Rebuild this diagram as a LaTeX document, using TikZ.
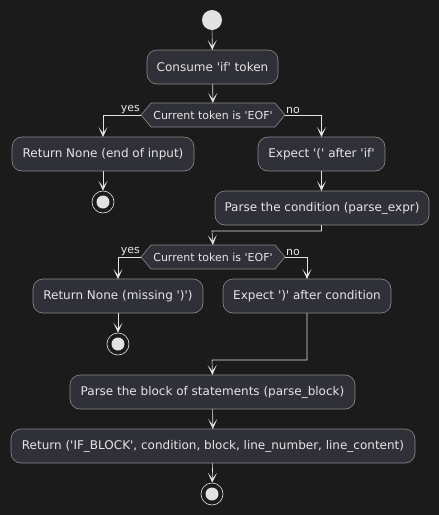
\documentclass[tikz,border=0pt]{standalone}
\usepackage{fontspec}
\newfontfamily\actfont{DejaVu Sans}
\usetikzlibrary{arrows.meta,shapes.symbols}
\definecolor{bgcolor}{HTML}{1B1B1B}
\definecolor{actcolor}{HTML}{2F3038}
\definecolor{bordercolor}{HTML}{8C8C8C}
\definecolor{linecolor}{HTML}{E2E2E2}
\definecolor{textcolor}{HTML}{E6E6E6}
\tikzset{actbase/.style={semithick, draw=bordercolor, fill=actcolor, text=textcolor, inner sep=0pt, outer sep=0pt},%
    act/.style={actbase, rounded corners=10pt, minimum height=34pt, font=\actfont\fontsize{12}{14}\selectfont},%
    choice/.style={actbase, shape=signal, signal to=east and west, signal pointer angle=100, minimum width=144pt, minimum height=24pt, font=\actfont\fontsize{11}{13}\selectfont},%
    startnode/.style={shape=circle, fill=linecolor, minimum size=20pt, inner sep=0pt},%
    stopnode/.style={shape=circle, draw=linecolor, semithick, fill=bgcolor, minimum size=22pt, inner sep=0pt, path picture={\fill[linecolor] (path picture bounding box.center) circle (6.5pt);}},%
    conn/.style={-{Stealth[length=10pt, width=9pt, inset=6pt]}, semithick, color=linecolor},%
    branch/.style={text=textcolor, inner sep=1pt, font=\actfont\fontsize{11}{13}\selectfont}%
}

\begin{document}
\begin{tikzpicture}[x=1pt, y=-1pt]
            \fill[bgcolor] (0,0) rectangle (439,515);
            \useasboundingbox (0,0) rectangle (439,515);
            \begin{scope} %draw activities
                \foreach \nodename/\nodetype/\boxwidth/\xpos/\ypos/\content in {%
                        consume/act/131/212.5/67/{Consume 'if' token},
                        eofret/act/182/103/154/{Return None (end of input)},
                        expopen/act/127/321.5/154/{Expect '(' after 'if'},
                        parsecond/act/214/322/208/{Parse the condition (parse\_expr)},
                        missret/act/170/118/296/{Return None (missing ')')},
                        expclose/act/168/307/296/{Expect ')' after condition},
                        parseblock/act/285/212.5/392/{Parse the block of statements (parse\_block)},
                        blockret/act/404/213/446/{Return ('IF\_BLOCK', condition, block, line\_number, line\_content)}
                    } \node[\nodetype, minimum width=\boxwidth pt] (\nodename) at (\xpos, \ypos) {\content};
                \foreach \nodename/\ypos in {eofcheck/115, closecheck/257}
                    \node[choice] (\nodename) at (213, \ypos) {Current token is 'EOF'};
            \end{scope}
            \begin{scope} %draw start and stops
                \node[startnode] (start) at (212, 20) {};
                \foreach \nodename/\xpos/\ypos in {stopa/103/202, stopb/118/344, stopc/212/494}
                    \node[stopnode] (\nodename) at (\xpos, \ypos) {};
                \coordinate (joina) at (212, 231);
                \coordinate (joinb) at (212, 360);
            \end{scope}
            \begin{scope} %draw connections
                \draw[conn] (start) -- (consume);
                \draw[conn] (consume) -- (eofcheck);
                \draw[conn] (eofcheck.west) -| (eofret.north);
                \draw[conn] (eofcheck.east) -| (expopen.north);
                \draw[conn] (eofret) -- (stopa);
                \draw[conn] (expopen) -- (expopen |- parsecond.north);
                \draw[conn] (parsecond.south -| expopen) |- (joina) -- (closecheck.north);
                \draw[conn] (closecheck.west) -| (missret.north);
                \draw[conn] (closecheck.east) -| (expclose.north);
                \draw[conn] (missret) -- (stopb);
                \draw[conn] (expclose.south) |- (joinb) -- (parseblock.north);
                \draw[conn] (parseblock) -- (blockret);
                \draw[conn] (blockret) -- (stopc);
            \end{scope}
            \begin{scope} %add labels
                \foreach \nodename in {eofcheck, closecheck} {
                    \node[branch, anchor=south east] (yes\nodename) at (\nodename.west) {yes};
                    \node[branch, anchor=south west] (no\nodename) at (\nodename.east) {no};
                }
            \end{scope}
        \end{tikzpicture}
\end{document}
